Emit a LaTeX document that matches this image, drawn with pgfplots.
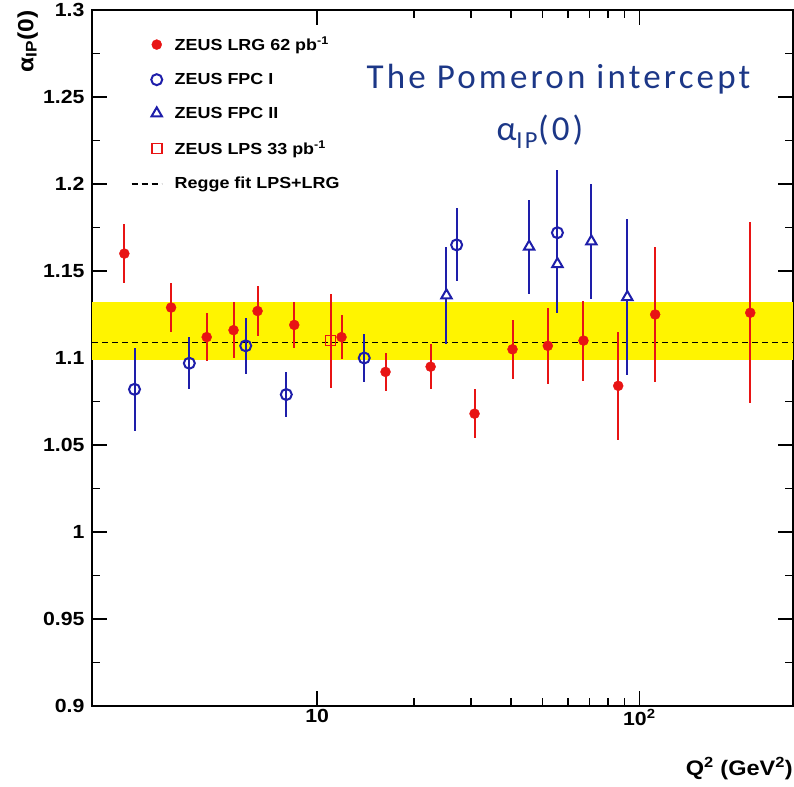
\documentclass[border=0pt]{standalone}
\usepackage{fontspec}
\setmainfont{Liberation Sans}[FakeStretch=1.12]
\newfontfamily\titlefont{Carlito}[LetterSpace=9]
\usepackage{pgfplots}
\pgfplotsset{compat=1.18}
\definecolor{zred}{RGB}{232,20,20}
\definecolor{zblue}{RGB}{30,30,170}
\definecolor{ttblue}{RGB}{28,55,135}
\definecolor{band}{RGB}{255,244,0}

\begin{document}
\begin{tikzpicture}
\path[use as bounding box] (-92pt,-80pt) rectangle (702pt,706pt);
\begin{axis}[
    scale only axis, width=701pt, height=696pt,
    xmode=log, xmin=2, xmax=300,
    ymin=0.9, ymax=1.3,
    ytick={0.9,0.95,1,1.05,1.1,1.15,1.2,1.25,1.3},
    minor y tick num=1,
    xtick={10,100}, xticklabels={10,10\textsuperscript{2}},
    tick align=inside,
    major tick length=15pt, minor tick length=8pt,
    every tick/.style={black, line width=1.4pt},
    axis line style={line width=1.6pt},
    tick label style={font=\fontsize{19}{23}\selectfont\bfseries},
    /pgf/number format/assume math mode=true,
    yticklabel style={xshift=-4pt, /pgf/number format/.cd, fixed, precision=2},
    xlabel={Q\textsuperscript{2} (GeV\textsuperscript{2})},
    xlabel style={at={(rel axis cs:1,0)}, anchor=base east, yshift=-69pt, inner sep=0pt,
        font=\fontsize{21}{25}\selectfont\bfseries},
    ylabel={α\textsubscript{IP}(0)},
    ylabel style={at={(rel axis cs:-0.077,1)}, anchor=south east, inner sep=0pt,
        font=\fontsize{22}{26}\selectfont\bfseries},
    legend style={at={(rel axis cs:0.051,0.966)}, anchor=north west, draw=none, fill=none,
        font=\fontsize{16}{19}\selectfont\bfseries, row sep=19pt, column sep=5pt,
        nodes={inner sep=1pt}},
    legend cell align=left,
    legend image code/.code={\path[draw=none] (-25pt,0pt) (12pt,0pt); \draw[mark repeat=1,#1] plot coordinates {(0pt,0pt)};},
    error bars/error bar style={line width=2pt},
]

% Regge fit band and line
\addplot[fill=band, draw=none, forget plot] coordinates {(2,1.099) (300,1.099) (300,1.132) (2,1.132)} -- cycle;
\addplot[black, dashed, line width=1.6pt, dash pattern=on 6pt off 4pt, forget plot] coordinates {(2,1.109) (300,1.109)};

% ZEUS LRG 62 pb-1
\addplot[only marks, mark=*, mark size=5pt, color=zred,
    error bars/.cd, y dir=both, y explicit, error mark=none]
  coordinates {
    (2.52,1.160) +- (0,0.017)
    (3.52,1.129) +- (0,0.014)
    (4.54,1.112) +- (0,0.014)
    (5.5,1.116) +- (0,0.016)
    (6.53,1.127) +- (0,0.0145)
    (8.49,1.119) +- (0,0.013)
    (11.9,1.112) +- (0,0.0125)
    (16.3,1.092) +- (0,0.011)
    (22.5,1.095) +- (0,0.013)
    (30.8,1.068) +- (0,0.014)
    (40.4,1.105) +- (0,0.017)
    (52,1.107) +- (0,0.022)
    (67.1,1.110) +- (0,0.023)
    (86,1.084) +- (0,0.031)
    (112,1.125) +- (0,0.039)
    (221,1.126) +- (0,0.052)
  };
\addlegendentry{ZEUS LRG 62 pb\textsuperscript{-1}}

% ZEUS FPC I
\addplot[only marks, mark=o, mark size=5.5pt, color=zblue, mark options={line width=2pt, fill=white},
    error bars/.cd, y dir=both, y explicit, error mark=none]
  coordinates {
    (2.71,1.082) +- (0,0.024)
    (4.01,1.097) +- (0,0.015)
    (6.0,1.107) +- (0,0.016)
    (8.02,1.079) +- (0,0.013)
    (14.0,1.100) +- (0,0.014)
    (27.1,1.165) +- (0,0.021)
    (55.7,1.172) +- (0,0.036)
  };
\addlegendentry{ZEUS FPC I}

% ZEUS FPC II
\addplot[only marks, mark=triangle*, mark size=6pt, color=zblue, mark options={line width=2pt, fill=white},
    error bars/.cd, y dir=both, y explicit, error mark=none]
  coordinates {
    (25.2,1.136) +- (0,0.028)
    (45.5,1.164) +- (0,0.027)
    (55.7,1.154) +- (0,0.028)
    (71,1.167) +- (0,0.033)
    (91.8,1.135) +- (0,0.045)
  };
\addlegendentry{ZEUS FPC II}

% ZEUS LPS 33 pb-1
\addplot[only marks, mark=square, mark size=5pt, color=zred, mark options={line width=1.6pt},
    error bars/.cd, y dir=both, y explicit, error mark=none]
  coordinates {
    (11.0,1.110) +- (0,0.027)
  };
\addlegendentry{ZEUS LPS 33 pb\textsuperscript{-1}}

\addlegendimage{legend image code/.code={\path[draw=none] (-25pt,0pt) (12pt,0pt); \draw[black, line width=1.6pt, dash pattern=on 6pt off 4pt] (-25pt,0pt) -- (5pt,0pt);}}
\addlegendentry{Regge fit LPS+LRG}

\node[font=\titlefont\fontsize{35}{40}\selectfont, text=ttblue, anchor=base] at (rel axis cs:0.6655,0.8865) {The Pomeron intercept};
\node[font=\titlefont\fontsize{35}{40}\selectfont, text=ttblue, anchor=base] at (rel axis cs:0.639,0.8118) {α\textsubscript{IP}(0)};
\end{axis}
\end{tikzpicture}
\end{document}
